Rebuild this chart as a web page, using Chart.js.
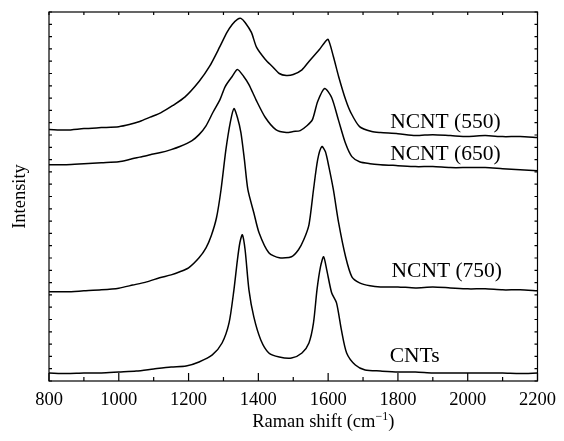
<!DOCTYPE html>
<html lang="en">
<head>
  <meta charset="UTF-8" />
  <title>Raman spectra</title>
  <script src="https://cdn.jsdelivr.net/npm/chart.js"></script>
  <style>
    html, body { margin: 0; padding: 0; background: #fff; }
    .box { width: 564px; height: 441px; position: relative; }
  </style>
</head>
<body>
  <div class="box"><canvas id="raman"></canvas></div>

  <script>
    // spectra (intensity in arbitrary units, offset per sample)
    const seriesNames = ['NCNT (550)', 'NCNT (650)', 'NCNT (750)', 'CNTs'];

    const shift550 = [800, 850, 900, 950, 1000, 1030, 1060, 1090, 1120, 1155, 1190, 1230, 1260, 1290, 1310, 1325, 1340, 1350, 1362, 1380, 1395, 1420, 1440, 1460, 1480, 1500, 1525, 1545, 1560, 1575, 1590, 1600, 1615, 1630, 1650, 1665, 1690, 1725, 1750, 1800, 1850, 1900, 1950, 2000, 2050, 2100, 2150, 2200];
    const int550 = [20.44, 20.40, 20.52, 20.60, 20.68, 20.85, 21.10, 21.45, 21.80, 22.40, 23.10, 24.35, 25.57, 27.20, 28.34, 28.99, 29.40, 29.48, 29.15, 28.34, 27.12, 26.14, 25.57, 25.00, 24.84, 24.92, 25.30, 25.98, 26.47, 26.95, 27.52, 27.77, 26.38, 24.76, 22.88, 21.82, 20.68, 20.28, 20.20, 20.11, 19.95, 20.03, 19.95, 19.87, 19.95, 19.87, 19.87, 19.79];

    const shift650 = [800, 850, 900, 950, 1000, 1030, 1060, 1090, 1120, 1150, 1175, 1210, 1230, 1250, 1270, 1290, 1305, 1325, 1340, 1358, 1373, 1393, 1420, 1450, 1480, 1500, 1520, 1540, 1555, 1570, 1590, 1610, 1630, 1650, 1668, 1690, 1720, 1750, 1800, 1850, 1900, 1950, 2000, 2050, 2100, 2150, 2200];
    const int650 = [17.59, 17.59, 17.67, 17.75, 17.83, 18.00, 18.20, 18.40, 18.57, 18.81, 19.06, 19.55, 20.03, 20.75, 21.85, 22.88, 23.94, 24.76, 25.33, 24.76, 24.10, 22.88, 21.42, 20.44, 20.20, 20.28, 20.36, 20.77, 21.25, 22.72, 23.78, 23.05, 21.17, 19.30, 18.24, 17.83, 17.67, 17.59, 17.51, 17.43, 17.43, 17.35, 17.35, 17.35, 17.26, 17.18, 17.10];

    const shift750 = [800, 850, 900, 950, 1000, 1040, 1080, 1117, 1150, 1175, 1200, 1230, 1250, 1265, 1280, 1293, 1307, 1320, 1330, 1340, 1350, 1360, 1370, 1387, 1402, 1430, 1460, 1495, 1515, 1530, 1545, 1558, 1570, 1582, 1592, 1602, 1615, 1630, 1650, 1668, 1690, 1720, 1750, 1800, 1850, 1900, 1950, 2000, 2050, 2100, 2150, 2200];
    const int750 = [7.25, 7.25, 7.33, 7.41, 7.55, 7.80, 8.06, 8.39, 8.63, 8.88, 9.20, 10.02, 10.83, 11.81, 13.27, 15.55, 18.81, 21.09, 22.15, 21.42, 20.20, 18.00, 15.55, 13.68, 12.05, 10.42, 10.02, 10.10, 10.67, 11.48, 12.70, 15.55, 18.00, 19.06, 18.65, 17.43, 15.55, 12.87, 10.10, 8.47, 7.98, 7.74, 7.65, 7.65, 7.57, 7.65, 7.57, 7.49, 7.49, 7.41, 7.41, 7.33];

    const shiftCNT = [800, 850, 900, 950, 1000, 1050, 1100, 1150, 1193, 1230, 1268, 1296, 1316, 1330, 1340, 1347, 1354, 1362, 1373, 1387, 1407, 1430, 1460, 1495, 1525, 1545, 1558, 1568, 1578, 1587, 1596, 1610, 1624, 1638, 1653, 1678, 1706, 1750, 1800, 1850, 1900, 1950, 2000, 2050, 2100, 2150, 2200];
    const intCNT = [0.65, 0.61, 0.65, 0.65, 0.73, 0.81, 0.98, 1.14, 1.22, 1.55, 2.12, 3.09, 4.72, 7.41, 9.85, 11.24, 11.89, 10.67, 7.41, 5.21, 3.34, 2.28, 1.95, 1.87, 2.28, 3.09, 4.72, 7.41, 9.28, 10.10, 9.04, 7.17, 6.35, 4.15, 2.28, 1.30, 0.90, 0.81, 0.73, 0.73, 0.65, 0.65, 0.65, 0.65, 0.65, 0.61, 0.65];

    const xMin = 800, xMax = 2200, xStep = 100, xLabelEvery = 200;
    const yMin = 0, yMax = 30, yStep = 1;

    const FONT = '"Liberation Serif", "Times New Roman", serif';
    Chart.defaults.font.family = FONT;
    Chart.defaults.color = '#000';

    const toPoints = (xs, ys) => xs.map((x, i) => ({ x: x, y: ys[i] }));
    const spectra = [[shift550, int550], [shift650, int650], [shift750, int750], [shiftCNT, intCNT]];

    // curve names placed next to each spectrum (shift, intensity at text baseline)
    const nameAnchors = [[1936, 20.58], [1936, 18.0], [1940, 8.47], [1848, 1.51]];

    const framePlugin = {
      id: 'frame',
      afterDraw(chart) {
        const { ctx, chartArea: a, scales: { x, y } } = chart;
        ctx.save();
        ctx.strokeStyle = '#000';
        ctx.lineWidth = 1.2;
        ctx.strokeRect(a.left, a.top, a.right - a.left, a.bottom - a.top);

        ctx.beginPath();
        x.ticks.forEach(t => {
          const px = x.getPixelForValue(t.value);
          const big = t.value % xLabelEvery === 0;
          ctx.moveTo(px, a.bottom); ctx.lineTo(px, a.bottom - (big ? 8 : 4));
          ctx.moveTo(px, a.top); ctx.lineTo(px, a.top + 3);
        });
        y.ticks.forEach(t => {
          const py = y.getPixelForValue(t.value);
          ctx.moveTo(a.left, py); ctx.lineTo(a.left + 3, py);
          ctx.moveTo(a.right, py); ctx.lineTo(a.right - 3, py);
        });
        ctx.stroke();

        // curve names
        ctx.fillStyle = '#000';
        ctx.font = '21.5px ' + FONT;
        ctx.textAlign = 'center';
        ctx.textBaseline = 'alphabetic';
        seriesNames.forEach((name, i) => {
          const [sx, sy] = nameAnchors[i];
          ctx.fillText(name, x.getPixelForValue(sx), y.getPixelForValue(sy));
        });

        // x axis title with superscript
        const main = 'Raman shift (cm', sup = '\u22121', tail = ')';
        ctx.textAlign = 'left';
        ctx.font = '18.5px ' + FONT;
        const w1 = ctx.measureText(main).width, w3 = ctx.measureText(tail).width;
        ctx.font = '12px ' + FONT;
        const w2 = ctx.measureText(sup).width;
        const cx = (a.left + a.right) / 2 + 30;
        const base = a.bottom + 45.5;
        let sx = cx - (w1 + w2 + w3) / 2;
        ctx.font = '18.5px ' + FONT;
        ctx.fillText(main, sx, base);
        ctx.font = '12px ' + FONT;
        ctx.fillText(sup, sx + w1, base - 7);
        ctx.font = '18.5px ' + FONT;
        ctx.fillText(tail, sx + w1 + w2, base);
        ctx.restore();
      }
    };

    new Chart(document.getElementById('raman'), {
      type: 'line',
      data: {
        datasets: spectra.map(([xs, ys], i) => ({
          label: seriesNames[i],
          data: toPoints(xs, ys),
          borderColor: '#000',
          borderWidth: 1.5,
          pointRadius: 0,
          tension: 0.25,
          fill: false
        }))
      },
      options: {
        responsive: true,
        maintainAspectRatio: false,
        animation: false,
        layout: { padding: { top: 12, right: 24, left: 0, bottom: 0 } },
        plugins: { legend: { display: false }, tooltip: { enabled: false } },
        scales: {
          x: {
            type: 'linear',
            min: xMin, max: xMax,
            grid: { display: false, drawTicks: false },
            border: { display: false },
            ticks: {
              stepSize: xStep,
              autoSkip: false,
              maxRotation: 0,
              padding: 8,
              font: { size: 18.5 },
              color: '#000',
              callback: v => (v % xLabelEvery === 0 ? String(v) : '')
            },
            afterFit: s => { s.height = 60; }
          },
          y: {
            min: yMin, max: yMax,
            grid: { display: false, drawTicks: false },
            border: { display: false },
            ticks: { stepSize: yStep, display: false },
            title: { display: true, text: 'Intensity', font: { size: 18.5 }, color: '#000', padding: { top: 9, bottom: 0 } },
            afterFit: s => { s.width = 49; }
          }
        }
      },
      plugins: [framePlugin]
    });
  </script>
</body>
</html>
